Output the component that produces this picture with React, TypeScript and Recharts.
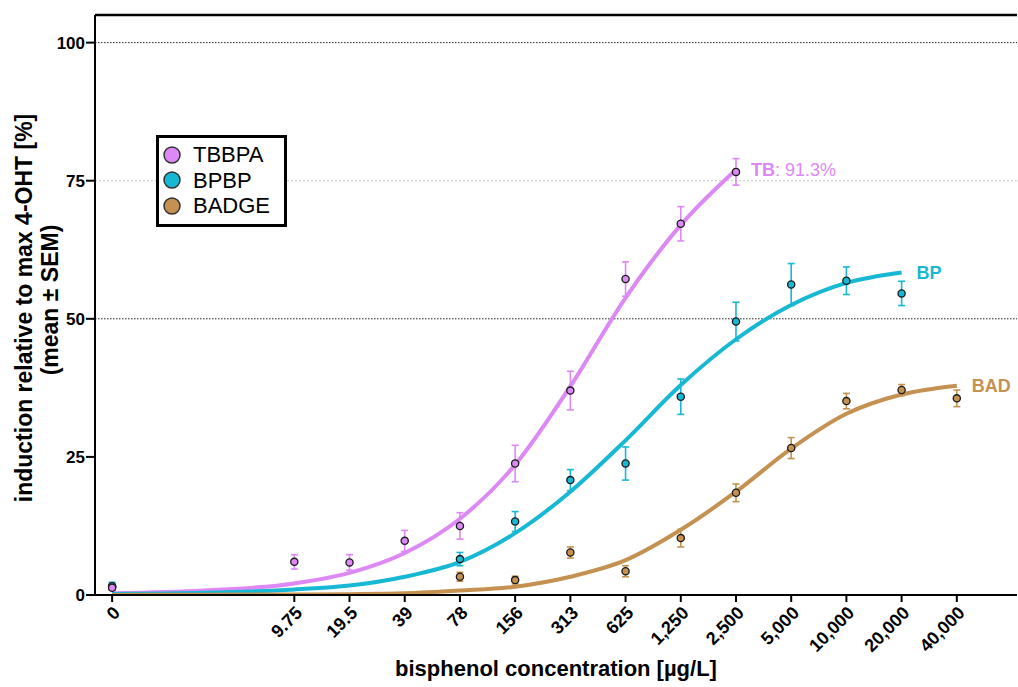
import {
  ComposedChart,
  Line,
  Scatter,
  ErrorBar,
  XAxis,
  YAxis,
  ReferenceLine,
  ReferenceDot,
  Label,
} from "recharts";

// concentrations (µg/L) and their position on the log2 axis (0 is drawn off-scale)
const concLabels = ["0", "9.75", "19.5", "39", "78", "156", "313", "625", "1,250", "2,500", "5,000", "10,000", "20,000", "40,000"];
const concPos = [-3.3, 0, 1, 2, 3, 4, 5, 6, 7, 8, 9, 10, 11, 12];

// measured means and SEM, same order as concLabels (null = not tested)
const tbbpaMean = [1.3, 6.0, 5.9, 9.8, 12.5, 23.8, 37.0, 57.2, 67.2, 76.6, null, null, null, null];
const tbbpaSem = [0.3, 1.3, 1.4, 1.9, 2.4, 3.3, 3.5, 3.1, 3.1, 2.4, null, null, null, null];
const bpbpMean = [1.6, null, null, null, 6.5, 13.3, 20.8, 23.8, 35.9, 49.5, 56.2, 56.9, 54.6, null];
const bpbpSem = [0.7, null, null, null, 1.2, 1.8, 1.9, 3.0, 3.2, 3.5, 3.8, 2.5, 2.2, null];
const badgeMean = [1.5, null, null, null, 3.3, 2.7, 7.7, 4.3, 10.3, 18.5, 26.6, 35.1, 37.1, 35.6];
const badgeSem = [0.6, null, null, null, 0.8, 0.7, 1.0, 1.0, 1.6, 1.6, 1.9, 1.4, 1.0, 1.5];

const fitPos = [-3.3, -1.65, 0, 1, 2, 3, 4, 5, 6, 7, 8, 9, 10, 11, 12];
const tbbpaFit = [0.3, 0.8, 2.1, 4.0, 7.6, 13.8, 23.6, 37.8, 53.8, 67.0, 77.0];
const bpbpFit = [0.2, 0.4, 1.0, 1.7, 3.3, 6.0, 11.2, 18.7, 28.0, 38.0, 46.3, 52.5, 56.5, 58.4];
const badgeFit = [0.0, 0.05, 0.1, 0.15, 0.3, 0.8, 1.5, 3.3, 6.3, 11.8, 18.7, 26.5, 32.8, 36.3, 37.9];

const yTicks = [0, 25, 50, 75, 100];

const PINK = "#DD88F5";
const CYAN = "#17B8D3";
const TAN = "#C59150";
const FONT = "Arial, 'Liberation Sans', sans-serif";

const series = [
  { name: "TBBPA", short: "TB", suffix: ": 91.3%", color: PINK, mean: tbbpaMean, sem: tbbpaSem, fit: tbbpaFit },
  { name: "BPBP", short: "BP", suffix: "", color: CYAN, mean: bpbpMean, sem: bpbpSem, fit: bpbpFit },
  { name: "BADGE", short: "BAD", suffix: "", color: TAN, mean: badgeMean, sem: badgeSem, fit: badgeFit },
];

function points(mean: (number | null)[], sem: (number | null)[]) {
  return concPos
    .map((p, i) => ({ p, y: mean[i], e: sem[i] }))
    .filter((d) => d.y != null);
}

function curve(fit: number[]) {
  return fit.map((y, i) => ({ p: fitPos[i], y }));
}

function dotShape(color: string) {
  return (props: any) => (
    <circle cx={props.cx} cy={props.cy} r={3.6} fill={color} stroke="#1a1a1a" strokeWidth={1.3} />
  );
}

function endLabel(s: (typeof series)[number]) {
  return (props: any) => {
    const vb = props.viewBox || {};
    const x = (vb.x ?? 0) + (vb.width ?? 0) / 2 + 15;
    const y = (vb.y ?? 0) + (vb.height ?? 0) / 2 + 6.5;
    return (
      <text x={x} y={y} fill={s.color} fontSize={18} fontFamily={FONT}>
        <tspan fontWeight="bold">{s.short}</tspan>
        {s.suffix ? <tspan>{s.suffix}</tspan> : null}
      </text>
    );
  };
}

function YTitle(props: any) {
  const vb = props.viewBox || { y: 15, height: 580 };
  const cy = vb.y + vb.height / 2;
  return (
    <g fontFamily={FONT} fontWeight="bold" fill="#000" textAnchor="middle">
      <text x={32} y={cy + 3} fontSize={23} transform={`rotate(-90 32 ${cy + 3})`}>
        induction relative to max 4-OHT [%]
      </text>
      <text x={58} y={cy - 5} fontSize={23} transform={`rotate(-90 58 ${cy - 5})`}>
        (mean ± SEM)
      </text>
    </g>
  );
}

export default function App() {
  return (
    <div style={{ position: "absolute", left: 0, top: 0, width: 1018, height: 687, background: "#fff", fontFamily: FONT }}>
      <ComposedChart width={1018} height={687} margin={{ top: 15, right: 1, bottom: 0, left: 0 }}>
        <XAxis
          type="number"
          dataKey="p"
          domain={[-3.61, 13.09]}
          allowDataOverflow
          ticks={concPos}
          interval={0}
          tickFormatter={(v) => concLabels[concPos.indexOf(v)] ?? ""}
          height={92}
          angle={-45}
          textAnchor="end"
          tickSize={7}
          tickMargin={3}
          tick={{ fontSize: 18, fontWeight: "bold", fill: "#000", fontFamily: FONT }}
          axisLine={{ stroke: "#000", strokeWidth: 2 }}
          tickLine={{ stroke: "#000", strokeWidth: 2 }}
        >
          <Label
            value="bisphenol concentration [µg/L]"
            position="insideBottom"
            offset={11}
            style={{ fontSize: 22, fontWeight: "bold", fill: "#000", fontFamily: FONT }}
          />
        </XAxis>
        <YAxis
          type="number"
          domain={[0, 105]}
          allowDataOverflow
          ticks={yTicks}
          width={95}
          tickSize={9}
          tickMargin={1}
          tick={{ fontSize: 17, fontWeight: "bold", fill: "#000", fontFamily: FONT }}
          axisLine={{ stroke: "#000", strokeWidth: 2 }}
          tickLine={{ stroke: "#000", strokeWidth: 2 }}
        >
          <Label content={<YTitle />} />
        </YAxis>

        <ReferenceLine y={100} stroke="#222" strokeWidth={1} strokeDasharray="1.5 1.5" />
        <ReferenceLine y={75} stroke="#c4c4c4" strokeWidth={1} strokeDasharray="2 2" />
        <ReferenceLine y={50} stroke="#222" strokeWidth={1} strokeDasharray="1.5 1.5" />
        <ReferenceLine y={105} stroke="#000" strokeWidth={2.5} />

        {series.map((s) => (
          <Line
            key={s.name + "-fit"}
            data={curve(s.fit)}
            dataKey="y"
            type="monotone"
            stroke={s.color}
            strokeWidth={4}
            dot={false}
            activeDot={false}
            isAnimationActive={false}
          />
        ))}

        {series
          .slice()
          .reverse()
          .map((s) => (
            <Scatter
              key={s.name + "-pts"}
              data={points(s.mean, s.sem)}
              dataKey="y"
              shape={dotShape(s.color)}
              isAnimationActive={false}
            >
              <ErrorBar dataKey="e" direction="y" width={3.5} stroke={s.color} strokeWidth={1.6} />
            </Scatter>
          ))}

        {series.map((s) => {
          const last = curve(s.fit)[s.fit.length - 1];
          return (
            <ReferenceDot
              key={s.name + "-lbl"}
              x={last.p}
              y={last.y}
              r={0}
              fill="none"
              stroke="none"
              label={endLabel(s)}
            />
          );
        })}
      </ComposedChart>

      <div
        style={{
          position: "absolute",
          left: 156,
          top: 135,
          width: 131,
          height: 92,
          boxSizing: "border-box",
          border: "3px solid #000",
          background: "#fff",
          paddingTop: 4,
        }}
      >
        {series.map((s) => (
          <div key={s.name} style={{ display: "flex", alignItems: "center", height: 25.5 }}>
            <svg width={34} height={22} style={{ flex: "none" }}>
              <circle cx={13} cy={11} r={8} fill={s.color} stroke="#333" strokeWidth={1.5} />
            </svg>
            <span style={{ fontSize: 22, lineHeight: "25px", color: "#000" }}>{s.name}</span>
          </div>
        ))}
      </div>
    </div>
  );
}
